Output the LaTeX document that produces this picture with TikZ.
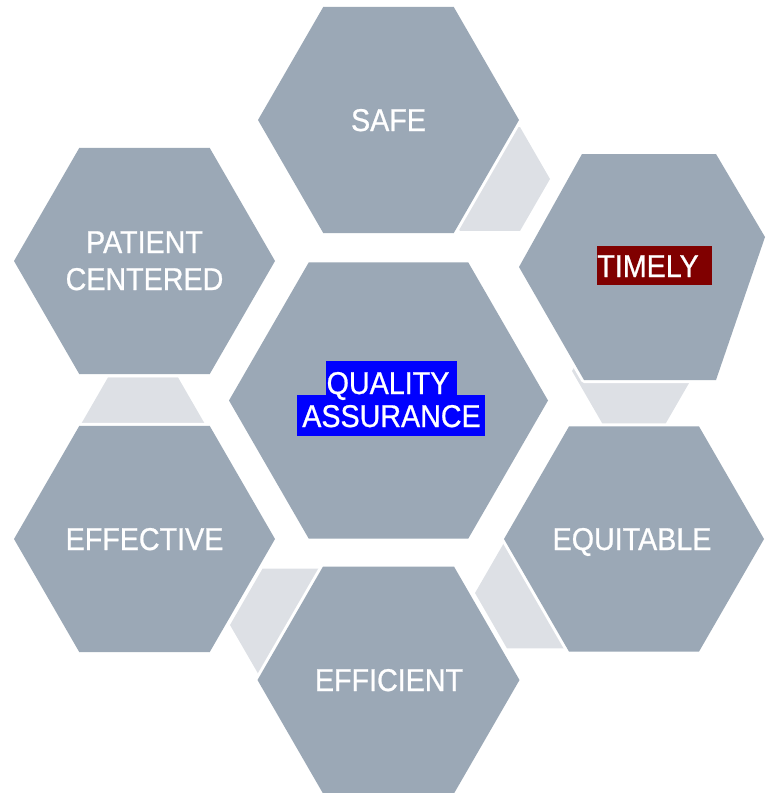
\documentclass[tikz,border=0pt]{standalone}
\usepackage{fontspec}
\setmainfont[FakeStretch=0.91,FakeBold=0.8]{Liberation Sans}
\definecolor{hexgray}{RGB}{155,168,182}
\definecolor{linkgray}{RGB}{221,224,229}
\definecolor{hlred}{RGB}{128,0,0}
\definecolor{hlblue}{RGB}{0,0,255}
\newcommand\myhex[4]{%
  \path[#4] ({#1+#3},#2) -- ({#1+0.5*#3},{#2+0.8660*#3}) -- ({#1-0.5*#3},{#2+0.8660*#3})
    -- ({#1-#3},#2) -- ({#1-0.5*#3},{#2-0.8660*#3}) -- ({#1+0.5*#3},{#2-0.8660*#3}) -- cycle;}
\tikzset{
  linkhex/.style={fill=linkgray},
  mainhex/.style={fill=hexgray, preaction={draw=white, line width=6pt, line join=round}},
  lbl/.style={text=white, font=\fontsize{31.5}{36}\selectfont, inner sep=0pt, anchor=base},
  hlbox/.style={inner sep=0pt, draw=none}
}
\begin{document}
\begin{tikzpicture}[x=1pt, y=-1pt]
  \useasboundingbox (0,0) rectangle (766,793);
  \clip (0,0) rectangle (766,793);
  % light connector hexagons (behind)
  \myhex{490}{179}{60}{linkhex}
  \myhex{634}{371}{62}{linkhex}
  \myhex{539}{593}{64}{linkhex}
  \myhex{295}{625}{65}{linkhex}
  \myhex{143}{438}{70}{linkhex}
  % main hexagons
  \myhex{388.5}{120}{130.5}{mainhex}
  \myhex{144.5}{261}{130.5}{mainhex}
  \myhex{388.5}{400.5}{159.5}{mainhex}
  \myhex{634}{539}{130}{mainhex}
  \myhex{144.5}{539}{130.5}{mainhex}
  \myhex{388.5}{680}{131}{mainhex}
  \path[mainhex] (582,154) -- (716,154) -- (765,237) -- (716,380) -- (584,380) -- (519,267) -- cycle;
  % highlight boxes
  \node[hlbox, fill=hlblue, minimum width=131pt, minimum height=34pt] (qbox) at (391.5,378) {};
  \node[hlbox, fill=hlblue, minimum width=188pt, minimum height=41pt] (abox) at (391,415.5) {};
  \node[hlbox, fill=hlred, minimum width=115pt, minimum height=39pt] (tbox) at (654.5,265.5) {};
  % labels
  \node[lbl] (safe) at (388.5,131) {SAFE};
  \node[lbl] (patient) at (144.5,253) {PATIENT};
  \node[lbl] (centered) at (144.5,290) {CENTERED};
  \node[lbl] (timely) at (648,277) {TIMELY};
  \node[lbl] (quality) at (388,394) {QUALITY};
  \node[lbl] (assurance) at (391.5,427) {ASSURANCE};
  \node[lbl] (equitable) at (632,550) {EQUITABLE};
  \node[lbl] (effective) at (144.5,550) {EFFECTIVE};
  \node[lbl] (efficient) at (389,691) {EFFICIENT};
\end{tikzpicture}
\end{document}
